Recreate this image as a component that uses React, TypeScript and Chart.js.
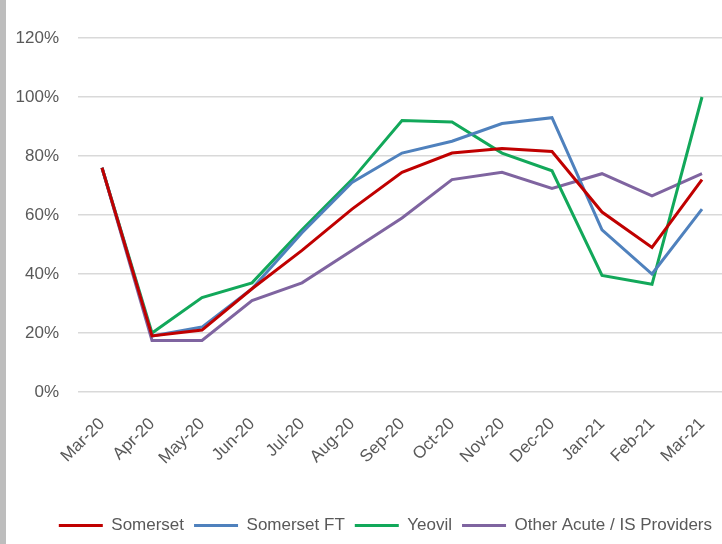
import React, { useEffect, useRef } from "react";
import { Chart, registerables } from "chart.js";

Chart.register(...registerables);

const categories = ["Mar-20", "Apr-20", "May-20", "Jun-20", "Jul-20", "Aug-20", "Sep-20", "Oct-20", "Nov-20", "Dec-20", "Jan-21", "Feb-21", "Mar-21"];
const somerset = [76, 19, 21, 35, 48, 62, 74.5, 81, 82.5, 81.5, 61, 49, 72];
const somersetFT = [76, 19, 22, 35, 54, 71, 81, 85, 91, 93, 55, 40, 62];
const yeovil = [76, 20, 32, 37, 55, 72, 92, 91.5, 81, 75, 39.5, 36.5, 100];
const otherProviders = [76, 17.5, 17.5, 31, 37, 48, 59, 72, 74.5, 69, 74, 66.5, 74];
const yTicks = [0, 20, 40, 60, 80, 100, 120];

const FONT = "'Liberation Sans', Arial, sans-serif";
const TEXT = "#595959";

export default function App() {
  const ref = useRef<HTMLCanvasElement | null>(null);
  useEffect(() => {
    if (!ref.current) return;
    const mk = (label: string, data: number[], color: string) => ({
      label,
      data: data.map((v, i) => ({ x: i, y: v })),
      borderColor: color,
      backgroundColor: color,
      borderWidth: 3,
      pointRadius: 0,
      pointStyle: "line" as const,
      tension: 0,
    });
    const chart = new Chart(ref.current, {
      type: "line",
      data: {
        datasets: [
          mk("Somerset", somerset, "#C00000"),
          mk("Somerset FT", somersetFT, "#4F81BD"),
          mk("Yeovil", yeovil, "#12A85A"),
          mk("Other Acute / IS Providers", otherProviders, "#7F64A0"),
        ],
      },
      options: {
        responsive: false,
        animation: false,
        layout: { padding: { top: 38, left: 0, right: 0, bottom: 0 } },
        plugins: {
          title: { display: false },
          tooltip: { enabled: false },
          legend: {
            position: "bottom",
            align: "end",
            labels: {
              usePointStyle: true,
              pointStyleWidth: 44,
              boxHeight: 17,
              padding: 10,
              color: TEXT,
              font: { family: FONT, size: 17 },
            },
          },
        },
        scales: {
          x: {
            type: "linear",
            min: -0.48,
            max: 12.4,
            grid: { display: false },
            border: { display: false },
            afterBuildTicks: (scale: any) => {
              scale.ticks = categories.map((_, i) => ({ value: i }));
            },
            afterFit: (scale: any) => {
              scale.height = 115;
              scale.paddingLeft = 0;
              scale.paddingRight = 0;
            },
            ticks: {
              autoSkip: false,
              maxRotation: 45,
              minRotation: 45,
              padding: 14,
              color: TEXT,
              font: { family: FONT, size: 17 },
              callback: (v: any) => categories[Math.round(Number(v))] ?? "",
            },
          },
          y: {
            min: 0,
            max: 120,
            afterBuildTicks: (scale: any) => {
              scale.ticks = yTicks.map((v) => ({ value: v }));
            },
            afterFit: (scale: any) => {
              scale.width = 78;
            },
            grid: { color: "#D9D9D9", lineWidth: 1.5, drawTicks: false },
            border: { display: false },
            ticks: {
              padding: 19,
              color: TEXT,
              font: { family: FONT, size: 17 },
              callback: (v: any) => v + "%",
            },
          },
        },
      },
    });
    return () => chart.destroy();
  }, []);
  return (
    <div style={{ position: "fixed", left: 0, top: 0, width: 722, height: 544, background: "#fff" }}>
      <div style={{ position: "absolute", left: 0, top: 0, width: 6, height: 544, background: "#BDBDBD" }} />
      <canvas ref={ref} width={722} height={544} style={{ position: "absolute", left: 0, top: 0, width: 722, height: 544 }} />
    </div>
  );
}
